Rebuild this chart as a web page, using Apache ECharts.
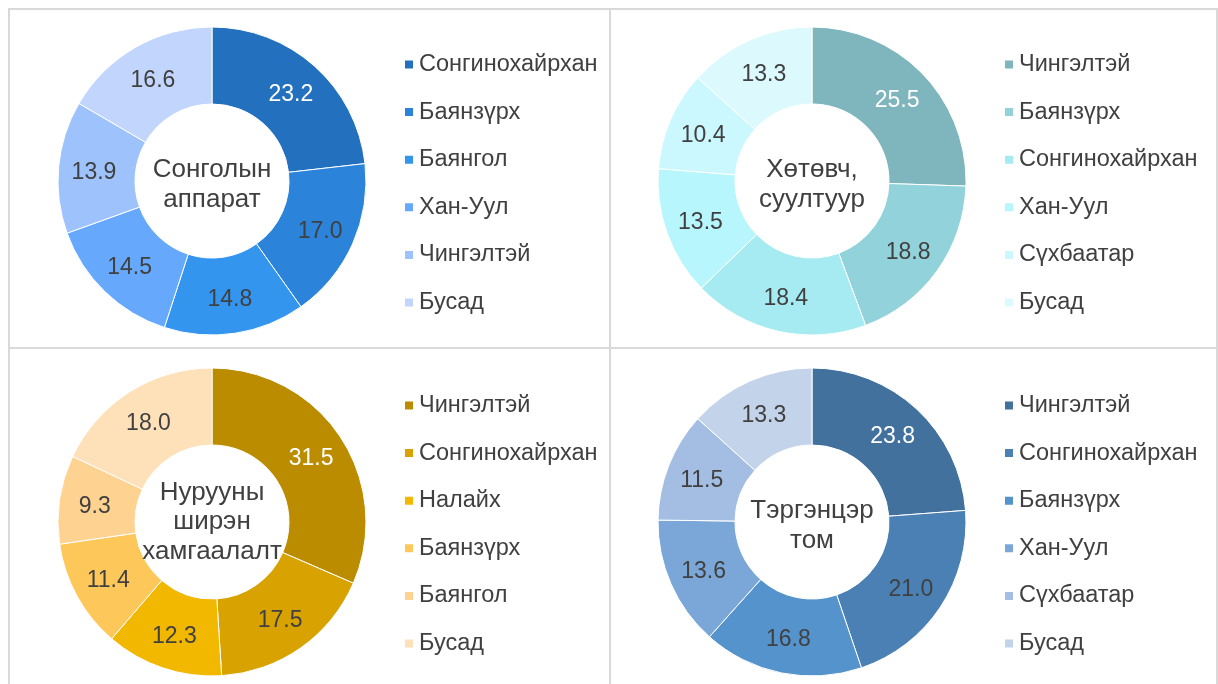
<!DOCTYPE html>
<html>
<head>
<meta charset="utf-8">
<script src="https://cdn.jsdelivr.net/npm/echarts@6/dist/echarts.min.js"></script>
<style>
  html, body { margin: 0; padding: 0; background: #fff; }
  .panel { position: absolute; box-sizing: border-box; border: 2px solid #d9d9d9; }
</style>
</head>
<body>
<div id="p1" class="panel" style="left:8px;top:8px;width:603px;height:341px;"></div>
<div id="p2" class="panel" style="left:609px;top:8px;width:609px;height:341px;border-left:none;"></div>
<div id="p3" class="panel" style="left:8px;top:347px;width:603px;height:345px;"></div>
<div id="p4" class="panel" style="left:609px;top:347px;width:609px;height:345px;border-left:none;"></div>
<script>
var cats1 = ['Сонгинохайрхан', 'Баянзүрх', 'Баянгол', 'Хан-Уул', 'Чингэлтэй', 'Бусад'];
var vals1 = [23.2, 17.0, 14.8, 14.5, 13.9, 16.6];
var cats2 = ['Чингэлтэй', 'Баянзүрх', 'Сонгинохайрхан', 'Хан-Уул', 'Сүхбаатар', 'Бусад'];
var vals2 = [25.5, 18.8, 18.4, 13.5, 10.4, 13.3];
var cats3 = ['Чингэлтэй', 'Сонгинохайрхан', 'Налайх', 'Баянзүрх', 'Баянгол', 'Бусад'];
var vals3 = [31.5, 17.5, 12.3, 11.4, 9.3, 18.0];
var cats4 = ['Чингэлтэй', 'Сонгинохайрхан', 'Баянзүрх', 'Хан-Уул', 'Сүхбаатар', 'Бусад'];
var vals4 = [23.8, 21.0, 16.8, 13.6, 11.5, 13.3];

var titles = ['Сонголын\nаппарат', 'Хөтөвч,\nсуултуур', 'Нурууны\nширэн\nхамгаалалт', 'Тэргэнцэр\nтом'];
var colors = [
	['#2371be', '#2b83da', '#3495ef', '#66a9fc', '#9dc2fc', '#c1d5fd'],
	['#7fb6bd', '#92d2da', '#a6eaf2', '#b8f6fd', '#cbf8fe', '#dcfafe'],
	['#bc8c00', '#d8a200', '#f2b800', '#fec75a', '#fed291', '#fee0b9'],
	['#41719c', '#4a80b4', '#5493cb', '#7aa7d7', '#a3bee2', '#c3d3ea']
];
var font = 'Liberation Sans, Arial, sans-serif';

function build(id, cats, vals, pal, title, cx, cy, ty) {
	var chart = echarts.init(document.getElementById(id));
	chart.setOption({
		animation: false,
		legend: {
			orient: 'vertical',
			left: cx + 186,
			top: cy - 133.5,
			itemWidth: 10,
			itemHeight: 10,
			itemGap: 23.6,
			icon: 'rect',
			textStyle: { fontFamily: font, fontSize: 23.5, color: '#404040' },
			data: cats
		},
		graphic: [{
			type: 'text',
			x: cx,
			y: cy + ty,
			style: {
				text: title,
				fontFamily: font,
				fontSize: 26,
				lineHeight: 29.5,
				fill: '#404040',
				align: 'center',
				verticalAlign: 'middle'
			},
			z: 10
		}],
		series: [{
			type: 'pie',
			center: [cx, cy],
			radius: [77, 154],
			startAngle: 90,
			clockwise: true,
			avoidLabelOverlap: false,
			itemStyle: { borderColor: '#fff', borderWidth: 1 },
			label: {
				position: 'inside',
				fontFamily: font,
				fontSize: 23,
				color: '#404040',
				offset: [0, 2],
				formatter: function (p) { return p.value.toFixed(1); }
			},
			labelLine: { show: false },
			emphasis: { disabled: true },
			data: cats.map(function (c, i) {
				var d = { name: c, value: vals[i], itemStyle: { color: pal[i] } };
				if (i === 0) d.label = { color: '#fff' };
				return d;
			})
		}]
	});
}

build('p1', cats1, vals1, colors[0], titles[0], 202, 171, 4);
build('p2', cats2, vals2, colors[1], titles[1], 203, 171, 4);
build('p3', cats3, vals3, colors[2], titles[2], 202, 173, 0);
build('p4', cats4, vals4, colors[3], titles[3], 203, 173, 4);
</script>
</body>
</html>
